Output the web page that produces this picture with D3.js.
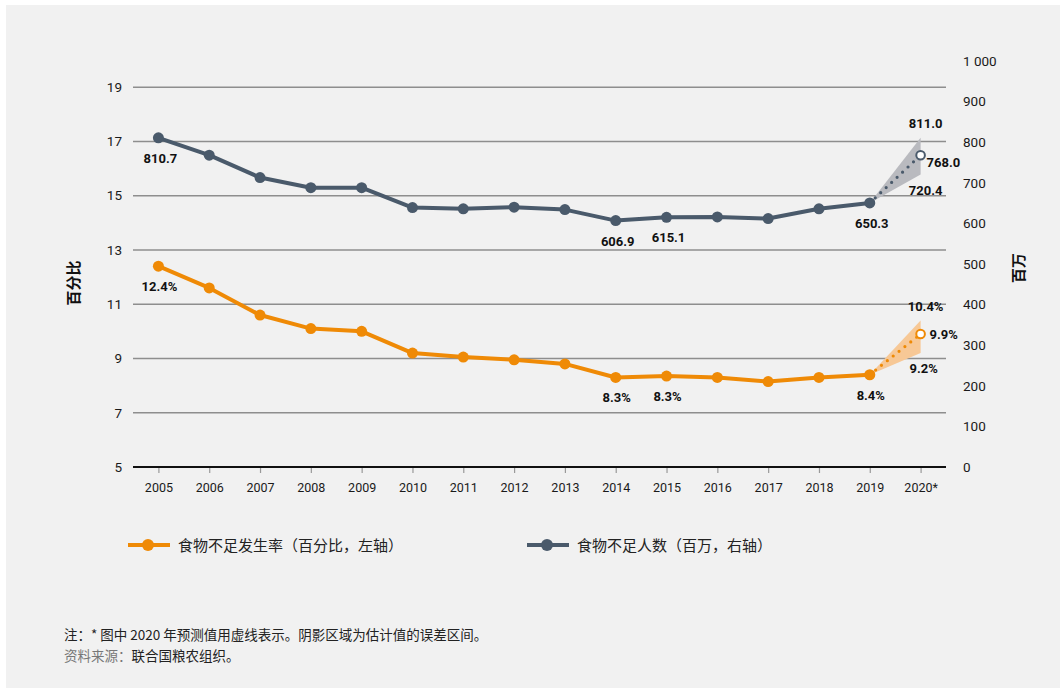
<!DOCTYPE html>
<html><head><meta charset="utf-8">
<script src="https://cdn.jsdelivr.net/npm/d3@7"></script>
<style>
body{margin:0;background:#fff;}
svg{display:block;}
text{font-family:"Liberation Sans Narrow","Roboto","Noto Sans CJK SC",sans-serif;}
.cjk{font-family:"Noto Sans CJK SC",sans-serif;}
</style></head><body>
<svg id="c" width="1060" height="688"></svg>
<script>
const years = ["2005","2006","2007","2008","2009","2010","2011","2012","2013","2014","2015","2016","2017","2018","2019","2020"];
const yearLabels = ["2005","2006","2007","2008","2009","2010","2011","2012","2013","2014","2015","2016","2017","2018","2019","2020*"];
const pouValues = [12.4,11.6,10.6,10.1,10.0,9.2,9.05,8.95,8.8,8.3,8.35,8.3,8.15,8.3,8.4,9.9];
const nouValues = [810.7,768,713,688,688,639,636,640,634,606.9,615.1,616,612,636,650.3,768.0];
const pouBand = {low:9.2, high:10.4};
const nouBand = {low:720.4, high:811.0};
const leftTicks = [5,7,9,11,13,15,17,19];
const rightTicks = [0,100,200,300,400,500,600,700,800,900,1000];
const pouLabels = [{i:0,t:"12.4%"},{i:9,t:"8.3%"},{i:10,t:"8.3%"},{i:14,t:"8.4%"}];
const nouLabels = [{i:0,t:"810.7"},{i:9,t:"606.9"},{i:10,t:"615.1"},{i:14,t:"650.3"}];
const legendItems = ["食物不足发生率（百分比，左轴）","食物不足人数（百万，右轴）"];
const noteLine1 = "注：* 图中 2020 年预测值用虚线表示。阴影区域为估计值的误差区间。";
const noteSrcLabel = "资料来源：";
const noteSrc = "联合国粮农组织。";

const ORANGE="#ef8a06", SLATE="#4a5a6b";
const svg=d3.select("#c");
svg.append("rect").attr("x",6).attr("y",5).attr("width",1054).attr("height",683).attr("fill","#f1f1f1");

const x=d3.scalePoint().domain(years).range([133,946]).padding(0.5);
const yL=d3.scaleLinear().domain([5,20]).range([467,60]);
const yR=d3.scaleLinear().domain([0,1000]).range([467,61]);

// gridlines
svg.append("g").selectAll("line").data(leftTicks.filter(d=>d>5)).join("line")
 .attr("x1",133).attr("x2",946).attr("y1",d=>yL(d)).attr("y2",d=>yL(d))
 .attr("stroke","#8e8e8e").attr("stroke-width",1.5);

// left axis
const gl=svg.append("g").attr("transform","translate(133,0)")
 .call(d3.axisLeft(yL).tickValues(leftTicks).tickSize(0).tickPadding(11));
gl.select(".domain").remove();
gl.selectAll("text").attr("font-size",13.5).attr("fill","#1a1a1a");

// right axis
const gr=svg.append("g").attr("transform","translate(946,0)")
 .call(d3.axisRight(yR).tickValues(rightTicks).tickSize(0).tickPadding(17)
 .tickFormat(d=>d>=1000? d3.format(",")(d).replace(","," "):d));
gr.select(".domain").remove();
gr.selectAll("text").attr("font-size",13.5).attr("fill","#1a1a1a");

// bottom axis
const gb=svg.append("g").attr("transform","translate(0,467)")
 .call(d3.axisBottom(x).tickSize(6).tickPadding(10).tickFormat((d,i)=>yearLabels[i]));
gb.select(".domain").remove();
gb.selectAll(".tick line").attr("stroke","#999").attr("stroke-width",1.2);
gb.selectAll("text").attr("font-size",12.5).attr("fill","#1a1a1a");
svg.append("line").attr("x1",133).attr("x2",946).attr("y1",467).attr("y2",467)
 .attr("stroke","#111").attr("stroke-width",2.2);

// axis titles
svg.append("text").attr("class","cjk").attr("transform","translate(79,283) rotate(-90)")
 .attr("text-anchor","middle").attr("font-size",15).attr("font-weight","bold").attr("fill","#111").text("百分比");
svg.append("text").attr("class","cjk").attr("transform","translate(1024,268) rotate(-90)")
 .attr("text-anchor","middle").attr("font-size",15).attr("font-weight","bold").attr("fill","#111").text("百万");

function series(vals, band, y, color, bandColor){
  const g=svg.append("g");
  const n=vals.length;
  // band
  const area=d3.area().x(d=>x(d.k)).y0(d=>y(d.lo)).y1(d=>y(d.hi));
  g.append("path").datum([{k:years[n-2],lo:vals[n-2],hi:vals[n-2]},{k:years[n-1],lo:band.low,hi:band.high}])
   .attr("d",area).attr("fill",bandColor);
  // solid line
  const line=d3.line().x((d,i)=>x(years[i])).y(d=>y(d));
  g.append("path").datum(vals.slice(0,n-1)).attr("d",line).attr("fill","none")
   .attr("stroke",color).attr("stroke-width",4).attr("stroke-linejoin","round");
  // dotted projection
  g.append("path").datum([vals[n-2],vals[n-1]])
   .attr("d",d3.line().x((d,i)=>x(years[n-2+i])).y(d=>y(d)))
   .attr("fill","none").attr("stroke",color).attr("stroke-width",3.2)
   .attr("stroke-linecap","round").attr("stroke-dasharray","0 7.5");
  g.selectAll("circle.p").data(vals.slice(0,n-1)).join("circle").attr("class","p")
   .attr("cx",(d,i)=>x(years[i])).attr("cy",d=>y(d)).attr("r",5.5).attr("fill",color);
  g.append("circle").attr("cx",x(years[n-1])).attr("cy",y(vals[n-1])).attr("r",4.3)
   .attr("fill","#fff").attr("stroke",color).attr("stroke-width",2);
}
series(nouValues,nouBand,yR,SLATE,"#b9babf");
series(pouValues,pouBand,yL,ORANGE,"#f7c896");

function lab(xx,yy,t,anchor){
  svg.append("text").attr("x",xx).attr("y",yy).attr("text-anchor",anchor||"middle")
   .attr("font-size",13).attr("font-weight","bold").attr("fill","#111").text(t);
}
nouLabels.forEach(d=>lab(x(years[d.i])+2,yR(nouValues[d.i])+25,d.t));
pouLabels.forEach(d=>lab(x(years[d.i])+1,yL(pouValues[d.i])+25,d.t));
const xl=x(years[15]);
lab(xl+5,yR(nouBand.high)-10,d3.format(".1f")(nouBand.high));
lab(xl+6,yR(nouValues[15])+12,d3.format(".1f")(nouValues[15]),"start");
lab(xl+5,yR(nouBand.low)+20,d3.format(".1f")(nouBand.low));
lab(xl+5,yL(pouBand.high)-9,pouBand.high+"%");
lab(xl+9,yL(pouValues[15])+5,pouValues[15]+"%","start");
lab(xl+3,yL(pouBand.low)+20,pouBand.low+"%");

// legend
[[128,ORANGE],[527,SLATE]].forEach((p,i)=>{
  const g=svg.append("g").attr("transform",`translate(${p[0]},545)`);
  g.append("line").attr("x1",0).attr("x2",42).attr("stroke",p[1]).attr("stroke-width",4);
  g.append("circle").attr("cx",20).attr("r",6).attr("fill",p[1]);
  g.append("text").attr("class","cjk").attr("x",50).attr("y",5.5).attr("font-size",15)
   .attr("fill","#222").text(legendItems[i]);
});

// notes
svg.append("text").attr("class","cjk").attr("x",64).attr("y",640).attr("font-size",13.5).attr("fill","#222").text(noteLine1);
const t2=svg.append("text").attr("class","cjk").attr("x",64).attr("y",661).attr("font-size",13.5);
t2.append("tspan").attr("fill","#777").text(noteSrcLabel);
t2.append("tspan").attr("fill","#222").text(noteSrc);
</script></body></html>
